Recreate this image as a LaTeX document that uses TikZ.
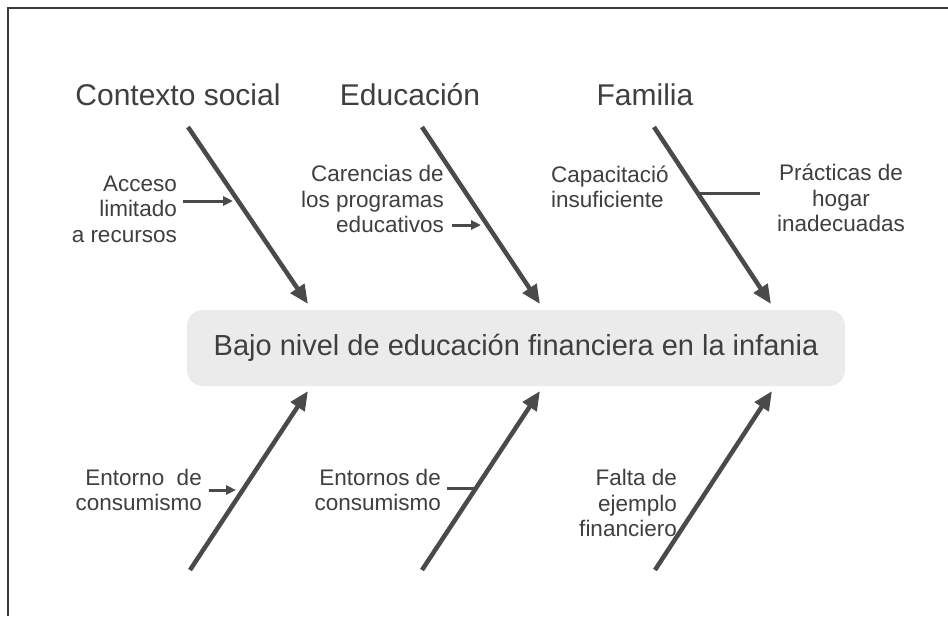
\documentclass[tikz,border=0pt]{standalone}
\usepackage{fontspec}
\setmainfont{Liberation Sans}
\usetikzlibrary{arrows.meta}
\definecolor{ink}{HTML}{4A4A4A}
\definecolor{txt}{HTML}{3F3F3F}
\definecolor{boxfill}{HTML}{EBEBEB}
\definecolor{frame}{HTML}{3A3A3A}
\begin{document}
\begin{tikzpicture}[x=1pt,y=-1pt,
  bone/.style={draw=ink,line width=4.5pt,line cap=butt,-{Triangle[length=19pt,width=16pt]}},
  twig/.style={draw=ink,line width=3pt,-{Triangle[length=10pt,width=9pt]}},
  stub/.style={draw=ink,line width=3pt},
  headtxt/.style={text=txt,font=\fontsize{30}{34}\selectfont,inner sep=0pt},
  lbl/.style={text=txt,font=\fontsize{22.5}{25.5}\selectfont,inner sep=0pt},
  core/.style={fill=boxfill,rounded corners=16pt,minimum width=658pt,minimum height=76pt,
    text=txt,font=\fontsize{29}{33}\selectfont}]
\useasboundingbox (0,0) rectangle (948,616);
\fill[white] (0,0) rectangle (948,616);
\draw[line width=2pt,draw=frame] (948,8) -- (8,8) -- (8,616);

% central effect
\node[core] (effect) at (516,348) {Bajo nivel de educación financiera en la infania};

% category headings
\node[headtxt] (h1) at (178,95) {Contexto social};
\node[headtxt] (h2) at (410,95) {Educación};
\node[headtxt] (h3) at (645,95) {Familia};

% bone end points
\coordinate (t1s) at (188,127); \coordinate (t1e) at (308,304);
\coordinate (t2s) at (422,127); \coordinate (t2e) at (540,304);
\coordinate (t3s) at (654,127); \coordinate (t3e) at (771,304);
\coordinate (b1s) at (190,570); \coordinate (b1e) at (308,391);
\coordinate (b2s) at (422,570); \coordinate (b2e) at (540,391);
\coordinate (b3s) at (655,570); \coordinate (b3e) at (772,391);

\draw[bone] (t1s) -- (t1e);
\draw[bone] (t2s) -- (t2e);
\draw[bone] (t3s) -- (t3e);
\draw[bone] (b1s) -- (b1e);
\draw[bone] (b2s) -- (b2e);
\draw[bone] (b3s) -- (b3e);

% cause labels
\node[lbl,align=right,anchor=east] (c1) at (177,209) {Acceso\\limitado\\a recursos};
\node[lbl,align=right,anchor=east] (c2) at (444,199) {Carencias de\\los programas\\educativos};
\node[lbl,align=left,anchor=west] (c3) at (551,187) {Capacitació\\insuficiente};
\node[lbl,align=center] (c4) at (841,198) {Prácticas de\\hogar\\inadecuadas};
\node[lbl,align=right,anchor=east] (c5) at (202,490) {Entorno\ \ de\\consumismo};
\node[lbl,align=right,anchor=east] (c6) at (441,490) {Entornos de\\consumismo};
\node[lbl,align=right,anchor=east] (c7) at (677,503) {Falta de\\ejemplo\\financiero};

% twigs
\coordinate (w1a) at (183,201); \coordinate (w1b) at (233,201);
\coordinate (w2a) at (452,225); \coordinate (w2b) at (481,225);
\coordinate (w3a) at (697,193); \coordinate (w3b) at (760,193);
\coordinate (w5a) at (209,490); \coordinate (w5b) at (236,490);
\coordinate (w6a) at (447,488); \coordinate (w6b) at (476,488);
\draw[twig] (w1a) -- (w1b);
\draw[twig] (w2a) -- (w2b);
\draw[stub] (w3a) -- (w3b);
\draw[twig] (w5a) -- (w5b);
\draw[stub] (w6a) -- (w6b);
\end{tikzpicture}
\end{document}
